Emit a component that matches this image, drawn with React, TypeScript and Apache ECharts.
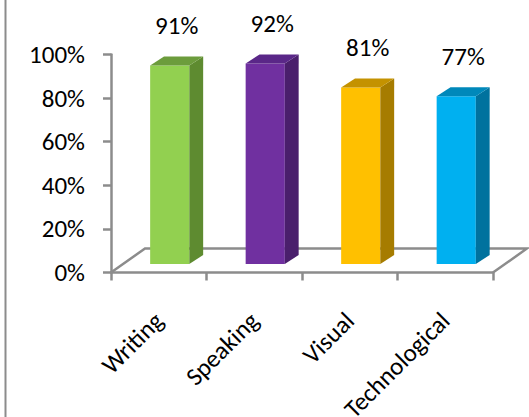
import React, { useEffect, useRef } from "react";
import * as echarts from "echarts";

const categories = ["Writing", "Speaking", "Visual", "Technological"];
const values = [91, 92, 81, 77];
const yTicks = { min: 0, max: 100, interval: 20 };

const frontColors = ["#92D050", "#7030A0", "#FFC000", "#00B0F0"];
const sideColors = ["#5E8B30", "#4A1F6C", "#A67C00", "#00729E"];
const topColors = ["#6C9C3C", "#5A2788", "#C49200", "#0088BA"];

const FONT = "Carlito, Calibri, Lato, sans-serif";
const GRAY = "#8C8C8C";

export default function App() {
  const ref = useRef<HTMLDivElement>(null);
  useEffect(() => {
    if (!ref.current) return;
    const chart = echarts.init(ref.current, null, { renderer: "svg" });
    const n = categories.length;
    chart.setOption({
      animation: false,
      backgroundColor: "#ffffff",
      grid: {
        left: 111,
        right: 36,
        top: 54.5,
        bottom: 144.5,
        containLabel: false,
        outerBoundsMode: "none",
      },
      xAxis: {
        type: "category",
        data: categories,
        boundaryGap: true,
        axisLine: { lineStyle: { color: GRAY, width: 2.5 } },
        axisTick: { show: true, alignWithLabel: false, length: 8, lineStyle: { color: GRAY, width: 2.5 } },
        axisLabel: { rotate: 45, margin: 44, color: "#000", fontSize: 25, fontFamily: FONT, interval: 0 },
        splitLine: { show: false },
      },
      yAxis: {
        type: "value",
        min: yTicks.min,
        max: yTicks.max,
        interval: yTicks.interval,
        axisLine: { show: true, lineStyle: { color: GRAY, width: 2.5 } },
        axisTick: { show: true, length: 8, lineStyle: { color: GRAY, width: 2.5 } },
        axisLabel: { formatter: "{value}%", margin: 26, color: "#000", fontSize: 25, fontFamily: FONT },
        splitLine: { show: false },
      },
      graphic: [
        {
          type: "line",
          shape: { x1: 5.5, y1: 0, x2: 5.5, y2: 417 },
          style: { stroke: GRAY, lineWidth: 2 },
        },
      ],
      series: [
        {
          type: "custom",
          z: 1,
          silent: true,
          data: [[0, 0]],
          renderItem: (params: any, api: any) => {
            const p = api.coord([0, 0]);
            const band = api.size([1, 0])[0];
            const L = p[0] - band / 2;
            const R = L + band * n;
            const y0 = p[1];
            const ddx = band * 0.356;
            const ddy = 24;
            return {
              type: "polyline",
              shape: {
                points: [
                  [L, y0],
                  [L + ddx, y0 - ddy],
                  [R + ddx, y0 - ddy],
                  [R, y0],
                ],
              },
              style: { stroke: GRAY, lineWidth: 2.5, fill: "none" },
            };
          },
        },
        {
          type: "custom",
          z: 3,
          data: values.map((v, i) => [i, v]),
          renderItem: (params: any, api: any) => {
            const idx = api.value(0);
            const val = api.value(1);
            const top = api.coord([idx, val]);
            const base = api.coord([idx, 0]);
            const band = api.size([1, 0])[0];
            const cx = top[0];
            const lift = 8.5;
            const dx = band * 0.145;
            const dy = 9;
            const x0 = cx - band * 0.09;
            const w = band * 0.41;
            const yb = base[1] - lift;
            const yt = top[1] - lift;
            const i = params.dataIndex;
            return {
              type: "group",
              children: [
                {
                  type: "rect",
                  shape: { x: x0, y: yt, width: w, height: yb - yt },
                  style: { fill: frontColors[i] },
                },
                {
                  type: "polygon",
                  shape: {
                    points: [
                      [x0 + w, yt],
                      [x0 + w + dx, yt - dy],
                      [x0 + w + dx, yb - dy],
                      [x0 + w, yb],
                    ],
                  },
                  style: { fill: sideColors[i] },
                },
                {
                  type: "polygon",
                  shape: {
                    points: [
                      [x0, yt],
                      [x0 + dx, yt - dy],
                      [x0 + w + dx, yt - dy],
                      [x0 + w, yt],
                    ],
                  },
                  style: { fill: topColors[i] },
                },
                {
                  type: "text",
                  style: {
                    x: x0 + (w + dx) / 2,
                    y: yt - 40,
                    text: val + "%",
                    fill: "#000",
                    fontSize: 25,
                    fontFamily: FONT,
                    align: "center",
                    verticalAlign: "middle",
                  },
                },
              ],
            };
          },
        },
      ],
    });
    return () => chart.dispose();
  }, []);
  return (
    <div
      ref={ref}
      style={{ position: "fixed", left: 0, top: 0, width: 529, height: 417 }}
    />
  );
}
